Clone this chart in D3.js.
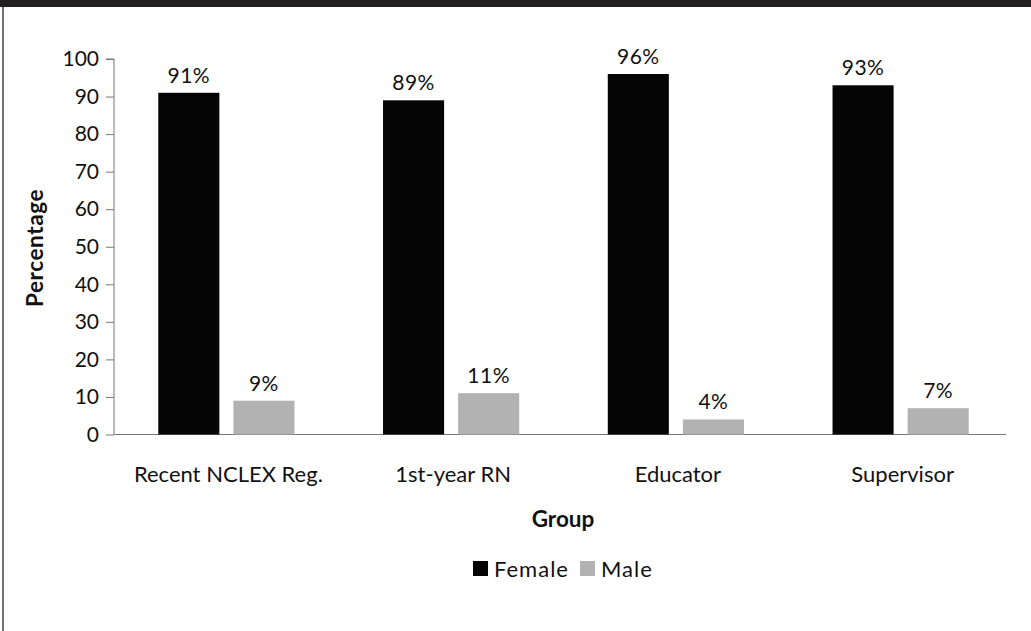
<!DOCTYPE html>
<html>
<head>
<meta charset="utf-8">
<script src="https://cdn.jsdelivr.net/npm/d3@7"></script>
<style>
  html, body { margin: 0; padding: 0; background: #fff; }
  svg { display: block; }
  text { font-family: Lato, "Open Sans", sans-serif; fill: #111; }
</style>
</head>
<body>
<svg id="chart" width="1031" height="631"></svg>
<script>
const categories = ["Recent NCLEX Reg.", "1st-year RN", "Educator", "Supervisor"];
const seriesNames = ["Female", "Male"];
const femaleValues = [91, 89, 96, 93];
const maleValues = [9, 11, 4, 7];
const yTicks = [0, 10, 20, 30, 40, 50, 60, 70, 80, 90, 100];
const colors = { Female: "#050505", Male: "#b2b2b2" };

const svg = d3.select("#chart");
const W = 1031, H = 631;

// frame
svg.append("rect").attr("x", 0).attr("y", 0).attr("width", W).attr("height", 7).attr("fill", "#231f20");
svg.append("line").attr("x1", 3).attr("x2", 3).attr("y1", 7).attr("y2", H)
  .attr("stroke", "#444").attr("stroke-width", 1.5);

const left = 114, axisRight = 1006;
const x = d3.scaleBand().domain(categories).range([left, 1013]).padding(0);
const y = d3.scaleLinear().domain([0, 100]).range([434.5, 59]);
const bw = x.bandwidth();
const xi = d3.scaleBand().domain(seriesNames)
  .range([bw * 0.197, bw * 0.803]).paddingInner(0.187).paddingOuter(0);

const data = categories.map((c, i) => ({
  cat: c,
  vals: [{ s: "Female", v: femaleValues[i] }, { s: "Male", v: maleValues[i] }]
}));

// y axis
const yAxis = d3.axisLeft(y).tickValues(yTicks).tickSize(8).tickPadding(7);
const yg = svg.append("g").attr("transform", `translate(${left},0)`).call(yAxis);
yg.select(".domain").attr("stroke", "#777").attr("d", `M-8,${y(100)}H0V${y(0)}`);
yg.selectAll(".tick line").attr("stroke", "#777");
yg.selectAll(".tick text").style("font-size", "21px").attr("fill", "#111")
  .style("font-family", "Lato, sans-serif");

// x baseline
svg.append("line").attr("x1", left).attr("x2", axisRight)
  .attr("y1", y(0)).attr("y2", y(0)).attr("stroke", "#777").attr("stroke-width", 1);

// bars
const groups = svg.selectAll("g.grp").data(data).enter().append("g")
  .attr("class", "grp").attr("transform", d => `translate(${x(d.cat)},0)`);
groups.selectAll("rect").data(d => d.vals).enter().append("rect")
  .attr("x", d => xi(d.s)).attr("width", xi.bandwidth())
  .attr("y", d => y(d.v)).attr("height", d => y(0) - y(d.v))
  .attr("fill", d => colors[d.s]);
groups.selectAll("text.lbl").data(d => d.vals).enter().append("text")
  .attr("class", "lbl")
  .attr("x", d => xi(d.s) + xi.bandwidth() / 2)
  .attr("y", d => y(d.v) - 10)
  .attr("text-anchor", "middle")
  .style("font-size", "21px")
  .style("letter-spacing", "0.5px")
  .text(d => d.v + "%");

// category labels
svg.append("g").selectAll("text").data(categories).enter().append("text")
  .attr("x", d => x(d) + bw / 2 + 2)
  .attr("y", 482)
  .attr("text-anchor", "middle")
  .style("font-size", "22px")
  .text(d => d);

// axis titles
svg.append("text").attr("x", 563).attr("y", 527).attr("text-anchor", "middle")
  .style("font-size", "22.5px").style("font-weight", "bold").text("Group");
svg.append("text").attr("transform", "translate(43,248) rotate(-90)")
  .attr("text-anchor", "middle").style("font-size", "22.5px").style("font-weight", "bold")
  .style("letter-spacing", "0.6px")
  .text("Percentage");

// legend
const legend = svg.append("g");
const legendItems = [
  { s: "Female", x: 473, tx: 494 },
  { s: "Male", x: 580, tx: 601 }
];
legend.selectAll("rect").data(legendItems).enter().append("rect")
  .attr("x", d => d.x).attr("y", 561).attr("width", 15).attr("height", 15)
  .attr("fill", d => colors[d.s]);
legend.selectAll("text").data(legendItems).enter().append("text")
  .attr("x", d => d.tx).attr("y", 577)
  .style("font-size", "22px")
  .style("letter-spacing", "1px")
  .text(d => d.s);
</script>
</body>
</html>
